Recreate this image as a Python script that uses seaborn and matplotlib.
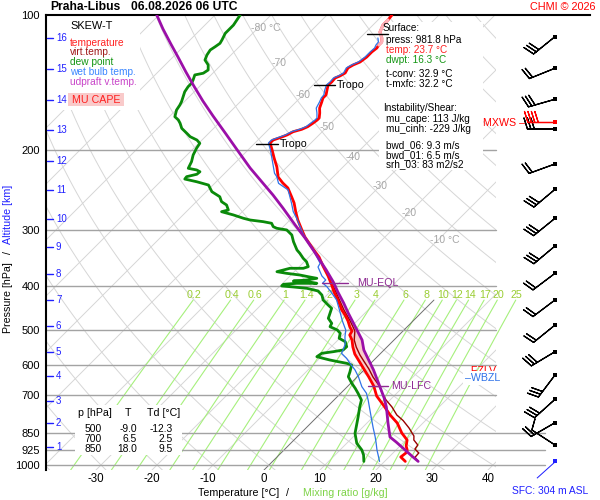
import numpy as np
import matplotlib
matplotlib.use("Agg")
import matplotlib.pyplot as plt
import seaborn as sns
from matplotlib.patches import Rectangle
from matplotlib.ticker import NullLocator

# ------------------------------------------------------------------ data
temp_p = [981.8, 959.9, 940.4, 926.1, 907.4, 879.9, 849.0, 806.6, 774.3, 739.4, 702.5, 667.5,
          637.4, 611.9, 587.3, 566.7, 546.7, 527.5, 514.2, 503.7, 493.6, 478.7, 464.2, 452.4,
          441.1, 425.5, 412.6, 400.1, 380.2, 361.2, 345.0, 332.8, 321.1, 311.4, 300.4, 285.5,
          274.0, 261.7, 253.8, 242.3, 236.2, 229.1, 217.7, 207.9, 199.5, 192.5, 189.6, 187.4,
          184.7, 181.7, 179.5, 177.1, 174.0, 171.1, 169.4, 165.1, 161.0, 156.1, 152.9, 150.5,
          146.8, 143.1, 140.9, 138.0, 136.6, 134.5, 131.1, 129.1, 127.2, 124.0, 120.8, 118.4,
          116.6, 114.8, 112.5, 109.1, 105.3, 102.6, 100.0]
temp_T = [23.7, 22.1, 22.3, 22.0, 21.1, 20.2, 18.0, 15.4, 12.7, 10.0, 6.9, 4.6,
          2.1, -0.2, -2.5, -4.5, -6.1, -7.5, -8.8, -9.1, -10.2, -11.6, -13.2, -14.7,
          -15.9, -17.7, -19.3, -20.7, -23.2, -25.9, -28.2, -30.4, -32.5, -34.3, -36.1, -38.6,
          -40.4, -42.3, -43.8, -46.1, -47.9, -49.8, -51.8, -53.9, -55.7, -57.3, -57.3, -56.5,
          -55.7, -55.2, -54.1, -53.5, -53.2, -53.0, -53.0, -53.8, -54.7, -55.4, -55.9, -55.9,
          -56.6, -57.3, -57.2, -57.3, -56.8, -56.4, -56.8, -56.4, -55.7, -55.4, -55.4, -55.2,
          -55.4, -55.4, -56.1, -57.5, -58.2, -58.2, -58.4]
temp_light_range = [116.6, 102.6]   # upper part drawn in light red

tv_p = [981.8, 961.4, 940.4, 921.4, 902.7, 879.9, 862.1, 827.5, 796.4, 774.3, 743.2, 717.1,
        695.4, 664.1, 637.4, 611.9, 588.9, 569.6, 546.7, 527.5, 503.7, 478.7, 452.4, 425.5, 400.1]
tv_T = [26.0, 24.7, 24.6, 23.2, 23.0, 21.4, 20.7, 18.4, 16.0, 13.9, 11.6, 9.3,
        7.6, 5.3, 2.85, 0.7, -1.5, -3.4, -5.5, -7.1, -8.6, -11.2, -14.3, -17.4, -20.5]

wb_p = [981.8, 950.1, 926.1, 893.5, 865.2, 827.5, 794.3, 754.7, 717.1, 692.9, 669.9, 636.5,
        615.0, 594.3, 579.3, 564.6, 555.2, 538.4, 519.4, 501.2, 478.7, 452.4, 429.8, 414.8,
        402.2, 394.1, 388.1, 380.2, 363.1, 356.2, 338.5, 327.3, 316.2, 305.6, 295.4, 283.0,
        273.6, 262.1, 244.8, 240.8, 236.6, 228.7, 224.8, 221.0, 207.9, 199.5, 192.5, 189.6,
        187.4, 184.7, 181.7, 179.5, 177.1, 174.0, 171.1, 169.4, 165.1, 161.0, 156.1, 152.9,
        150.5, 146.8, 143.1, 140.9, 138.0, 136.6, 134.5, 131.1, 129.1, 127.2, 124.0, 120.8,
        118.4, 116.6, 114.8, 112.5]
wb_T = [19.1, 17.7, 16.6, 15.2, 13.9, 12.0, 10.3, 8.2, 6.1, 4.6, 2.6, 0.2,
        -1.6, -3.7, -5.2, -7.0, -7.3, -8.0, -9.3, -10.4, -12.6, -15.1, -17.4, -19.5,
        -21.4, -22.9, -22.9, -24.3, -26.6, -26.9, -29.6, -31.4, -33.4, -35.3, -37.0, -39.1,
        -40.9, -42.7, -45.7, -47.1, -48.6, -50.1, -51.1, -51.8, -54.3, -56.0, -57.6, -57.6,
        -56.9, -56.0, -55.5, -54.5, -53.8, -53.6, -53.4, -53.4, -54.3, -55.3, -55.8, -56.2,
        -56.3, -57.0, -57.6, -57.5, -57.6, -57.1, -56.7, -57.1, -56.7, -56.0, -55.7, -55.7,
        -55.6, -55.9, -56.0, -56.8]

dp_p = [981.8, 950.1, 926.1, 894.9, 850.3, 814.9, 781.1, 742.1, 717.1, 692.9, 675.4, 658.4,
        636.5, 620.4, 599.5, 594.3, 589.4, 584.3, 579.3, 574.5, 564.6, 560.0, 555.2, 545.9,
        532.1, 522.9, 509.7, 501.2, 492.8, 484.3, 472.1, 460.1, 448.5, 441.1, 429.8, 419.1,
        410.5, 404.9, 402.2, 400.1, 396.7, 394.7, 394.7, 391.4, 390.1, 388.1, 384.7, 381.6,
        378.3, 375.0, 371.9, 365.5, 365.5, 362.5, 353.4, 347.3, 338.5, 332.8, 319.0, 308.2,
        300.4, 297.8, 295.4, 290.3, 287.9, 285.5, 283.0, 278.2, 273.6, 271.2, 264.4, 259.9,
        253.4, 247.0, 238.7, 234.7, 231.5, 228.7, 225.9, 223.0, 221.0, 219.1, 211.8, 204.7,
        197.8, 192.8, 189.6, 186.4, 183.2, 178.6, 174.0, 171.1, 168.3, 162.6, 158.5, 155.8,
        151.9, 148.1, 144.3, 141.9, 139.5, 135.9, 134.7, 132.5, 129.1, 125.9, 122.7, 119.6,
        117.6, 115.6, 113.6, 109.8, 107.9, 105.3, 100.0]
dp_T = [16.3, 15.1, 13.9, 11.8, 9.7, 8.5, 7.3, 5.8, 4.9, 3.1, 1.7, 0.2,
        -1.6, -2.2, -3.1, -4.3, -6.1, -7.9, -9.4, -10.8, -10.5, -8.75, -7.3, -7.25,
        -8.4, -10.1, -10.8, -11.9, -13.8, -14.1, -15.6, -16.2, -16.8, -18.0, -19.8, -20.9,
        -22.3, -24.8, -27.4, -29.7, -29.7, -27.5, -23.9, -26.0, -28.5, -26.3, -24.8, -26.6,
        -28.4, -31.1, -33.1, -31.4, -29.0, -28.4, -29.6, -30.8, -32.3, -33.4, -35.5, -37.0,
        -38.8, -40.9, -41.8, -42.7, -44.5, -47.1, -48.6, -51.0, -53.7, -52.8, -54.0, -55.5,
        -56.7, -59.0, -60.8, -63.5, -66.1, -66.2, -64.8, -64.7, -65.6, -67.4, -68.0, -68.9,
        -69.5, -69.8, -70.9, -72.7, -73.9, -75.7, -76.9, -77.8, -79.0, -79.9, -80.2, -80.5,
        -81.1, -81.7, -82.0, -82.0, -82.3, -82.9, -81.7, -81.4, -82.3, -83.75, -84.3, -84.6,
        -84.3, -84.05, -84.3, -84.9, -84.9, -84.9, -85.5]

par_p = [981.8, 955.0, 921.4, 889.0, 866.5, 806.6, 743.2, 709.8, 670.9, 615.0, 555.2, 527.5,
         501.2, 459.4, 436.5, 412.6, 392.0, 368.7, 332.8, 313.0, 292.8, 268.5, 251.2, 235.0,
         218.8, 200.6, 182.9, 167.7, 155.3, 143.8, 133.9, 124.0, 116.0, 107.4, 100.0]
par_T = [26.0, 23.9, 21.25, 18.6, 16.6, 13.75, 10.6, 8.6, 5.9, 1.7, -3.6, -5.7,
         -8.4, -13.0, -15.6, -18.6, -21.2, -24.6, -30.5, -34.1, -38.2, -43.4, -47.5, -51.8,
         -56.4, -61.6, -67.1, -72.3, -76.8, -81.1, -85.0, -89.1, -92.7, -96.8, -100.4]

cape_range = [672.0, 396.0]
eql_p = 394.7
lfc_p = 665.8
tropo_p = [193.5, 143.1]
tropo_mark_p = [110.4]

wind_p = [111.7, 131.3, 153.9, 179.2, 214.3, 244.0, 283.0, 326.1, 375.0, 429.8, 488.6, 560.0,
          631.0, 714.5, 805.4, 902.7]
wind_dir = [231, 248, 254, 270, 250, 230, 231, 230, 233, 233, 231, 239, 217, 228, 240, 303]
wind_spd = [30, 20, 30, 30, 20, 30, 30, 30, 20, 20, 20, 30, 30, 30, 20, 10]
mxws = dict(p=173.2, dir=270, spd=40)
sfc_wind = dict(p=981.8, dir=228)

p_ticks = [100, 200, 300, 400, 500, 600, 700, 850, 925, 1000]
p_grid_short = [200, 300, 400, 500, 600, 700]
p_grid_long = [850, 925, 1000]
t_ticks = [-30, -20, -10, 0, 10, 20, 30, 40]
alt_km = [16, 15, 14, 13, 12, 11, 10, 9, 8, 7, 6, 5, 4, 3, 2, 1]
alt_p = [112.5, 131.8, 154.5, 180.1, 211.1, 244.8, 284.0, 327.8, 376.3, 429.8, 491.0, 560.9,
         634.2, 719.7, 808.0, 910.6]
mix_w = [0.2, 0.4, 0.6, 1, 1.4, 2, 3, 4, 6, 8, 10, 12, 14, 17, 20, 25]
mix_lab = ["0.2", "0.4", "0.6", "1", "1.4", "2", "3", "4", "6", "8", "10", "12", "14", "17", "20", "25"]
mix_top_p = 430.0
iso_lab_T = [-80, -70, -60, -50, -40, -30, -20, -10]
iso_lab_p = [106.7, 127.7, 150.5, 177.1, 206.5, 239.9, 275.4, 316.2]

table_rows = [("500", "-9.0", "-12.3"), ("700", "6.5", "2.5"), ("850", "18.0", "9.5")]

# ------------------------------------------------------------------ style
sns.set_theme(style="white", rc={"axes.edgecolor": "black", "text.color": "black",
                                 "xtick.color": "black", "ytick.color": "black",
                                 "axes.linewidth": 1.5})
plt.rcParams["font.family"] = ["Liberation Sans", "DejaVu Sans"]
plt.rcParams["axes.unicode_minus"] = False

W, H = 600, 500
fig = plt.figure(figsize=(W / 100, H / 100), dpi=100)
fig.patch.set_facecolor("white")

PX0, PXS = 264.0, 5.6          # pixel of 0 degC at bottom, px per degC
AX_L, AX_R, AX_T, AX_B = 46, 590, 15, 470
Y1000 = 465.0


def px2X(px):
    return (px - PX0) / PXS


ax = fig.add_axes([AX_L / W, 1 - AX_B / H, (AX_R - AX_L) / W, (AX_B - AX_T) / H])
P_TOP = 100.0
LNSCALE = (Y1000 - AX_T) / np.log(1000 / P_TOP)
P_BOT = 1000 * np.exp((AX_B - Y1000) / LNSCALE)
K = LNSCALE / PXS


def skew(T, p):
    return np.asarray(T, float) + K * np.log(P_BOT / np.asarray(p, float))


ax.set_yscale("log")
ax.set_ylim(P_BOT, P_TOP)
ax.set_xlim(px2X(AX_L), px2X(AX_R))
for s in ["right", "bottom"]:
    ax.spines[s].set_visible(False)
ax.spines["left"].set_linewidth(1.5)
ax.spines["top"].set_linewidth(1.5)

XG = px2X(496)
XE = px2X(545)
clip = Rectangle((px2X(AX_L), P_TOP), XG - px2X(AX_L), P_BOT - P_TOP, transform=ax.transData)

pp = np.geomspace(P_BOT, P_TOP, 80)
for T in range(-160, 50, 10):
    if T == 0:
        continue
    ln, = ax.plot(skew(np.full_like(pp, T), pp), pp, color="#d6d6d6", lw=0.7, zorder=1)
    ln.set_clip_path(clip)
for th in range(-40, 190, 10):
    Tad = (th + 273.15) * (pp / 1000.0) ** 0.2857 - 273.15
    ln, = ax.plot(skew(Tad, pp), pp, color="#d6d6d6", lw=0.7, zorder=1)
    ln.set_clip_path(clip)
p0 = np.array([P_BOT, mix_top_p])
ax.plot(skew([0, 0], p0), p0, color="#6e6e6e", lw=0.7, zorder=1.25)

for p in p_grid_short:
    ax.plot([px2X(AX_L), XG], [p, p], color="#a3a3a3", lw=1.0, zorder=1.3)
for p in p_grid_long:
    ax.plot([px2X(AX_L), XE], [p, p], color="#a3a3a3", lw=1.0, zorder=1.3, clip_on=False)

pm = np.geomspace(P_BOT, mix_top_p, 40)
for w, lab in zip(mix_w, mix_lab):
    es = w * pm / (622.0 + w)
    lg = np.log(es / 6.112)
    Tm = 243.5 * lg / (17.67 - lg)
    ax.plot(skew(Tm, pm), pm, color="#a6f07c", lw=0.8, zorder=1.2)
    es2 = w * 426.0 / (622.0 + w)
    lg2 = np.log(es2 / 6.112)
    Xl = skew(243.5 * lg2 / (17.67 - lg2), 426.0)
    ax.text(Xl, 419.0, lab, ha="center", va="center", fontsize=7.7, color="#9acd32", zorder=2)

for T, p in zip(iso_lab_T, iso_lab_p):
    X = skew(T, p)
    if T in (-80, -10):
        ax.annotate(f"{T} °C", (X, p), xytext=(-5.5, 0), textcoords="offset points",
                    ha="left", va="center", fontsize=7.5, color="#a6a6a6", zorder=2)
    else:
        ax.text(X, p, f"{T}", ha="center", va="center", fontsize=7.5, color="#a6a6a6", zorder=2)


# white boxes (figure pixel coordinates)
def fbox(x0, y0, x1, y1, color, z):
    ax.add_patch(Rectangle((x0 / W, 1 - y1 / H), (x1 - x0) / W, (y1 - y0) / H,
                           transform=fig.transFigure, facecolor=color, edgecolor="none",
                           zorder=z, clip_on=False))


fbox(47, 16, 140, 110, "white", 2.2)
fbox(379, 22, 483, 170, "white", 2.2)
fbox(75, 405, 182, 455, "white", 2.2)
fbox(68, 93, 124, 106, "#f9caca", 2.3)

# CAPE fill
temp_p_a = np.array(temp_p); temp_T_a = np.array(temp_T)
par_p_a = np.array(par_p); par_T_a = np.array(par_T)
pg = np.geomspace(cape_range[0], cape_range[1], 200)
Tr = np.interp(np.log(pg), np.log(temp_p_a)[::-1], temp_T_a[::-1])
Tpc = np.interp(np.log(pg), np.log(par_p_a)[::-1], par_T_a[::-1])
Xr, Xpc = skew(Tr, pg), skew(Tpc, pg)
ax.fill_betweenx(pg, Xr, Xpc, where=Xpc > Xr, color="#f9caca", lw=0, zorder=2.5)

# profiles
sns.lineplot(x=skew(tv_T, tv_p), y=np.array(tv_p), sort=False, estimator=None, color="#990000",
             linewidth=1.0, ax=ax, zorder=3)
sns.lineplot(x=skew(dp_T, dp_p), y=np.array(dp_p), sort=False, estimator=None, color="#0a8a0a",
             linewidth=2.0, ax=ax, zorder=3.2)
sns.lineplot(x=skew(temp_T, temp_p), y=temp_p_a, sort=False, estimator=None, color="#ff0000",
             linewidth=2.0, ax=ax, zorder=3.4)
m = (temp_p_a <= temp_light_range[0]) & (temp_p_a >= temp_light_range[1])
sns.lineplot(x=skew(temp_T_a[m], temp_p_a[m]), y=temp_p_a[m], sort=False, estimator=None,
             color="#ffb0b8", linewidth=2.2, ax=ax, zorder=3.45)
sns.lineplot(x=skew(wb_T, wb_p), y=np.array(wb_p), sort=False, estimator=None, color="#2f72e8",
             linewidth=0.9, ax=ax, zorder=3.5)
sns.lineplot(x=skew(par_T, par_p), y=par_p_a, sort=False, estimator=None, color="#9b0fa8",
             linewidth=2.0, ax=ax, zorder=3.6)
ax.set_xlabel("")
ax.set_ylabel("")


def interpT(p_arr, T_arr, p):
    p_arr = np.asarray(p_arr); T_arr = np.asarray(T_arr)
    return float(np.interp(np.log(p), np.log(p_arr)[::-1], T_arr[::-1]))


# level markers
for p in tropo_p + tropo_mark_p:
    Xc = skew(interpT(temp_p, temp_T, p), p)
    ax.plot([Xc - 2.5, Xc + 1.3], [p, p], color="black", lw=1.0, zorder=4)
for p in tropo_p:
    Xc = skew(interpT(temp_p, temp_T, p), p)
    ax.text(Xc + 1.6, p, "Tropo", ha="left", va="center", fontsize=7.7, color="black", zorder=4)

Xe = skew(interpT(par_p, par_T, eql_p), eql_p)
ax.plot([Xe - 2.2, Xe + 2.5], [eql_p, eql_p], color="#8e2a92", lw=1.0, zorder=4)
ax.text(Xe + 4.1, eql_p, "MU-EQL", ha="left", va="center", fontsize=7.7, color="#8e2a92", zorder=4)
Xf = skew(interpT(par_p, par_T, lfc_p), lfc_p)
ax.plot([Xf - 2.0, Xf + 1.6], [lfc_p, lfc_p], color="#8e2a92", lw=1.0, zorder=4)
ax.text(Xf + 2.1, lfc_p, "MU-LFC", ha="left", va="center", fontsize=7.7, color="#8e2a92", zorder=4)

# wind barbs
BL = 6.3
xb = px2X(555)
d = np.deg2rad(wind_dir)
spd = np.array(wind_spd, float)
u, v = -spd * np.sin(d), -spd * np.cos(d)
ax.barbs(np.full(len(wind_p), xb), wind_p, u, v, length=BL, pivot="tip", color="black",
         linewidth=0.9, clip_on=False, zorder=4)
ax.scatter(np.full(len(wind_p), xb), wind_p, marker="s", s=8, color="black", zorder=5,
           clip_on=False, linewidths=0)
dm = np.deg2rad(mxws["dir"])
ax.barbs([xb], [mxws["p"]], [-mxws["spd"] * np.sin(dm)], [-mxws["spd"] * np.cos(dm)], length=BL,
         pivot="tip", color="red", linewidth=0.9, clip_on=False, zorder=4.5)
ax.scatter([xb], [mxws["p"]], marker="s", s=8, color="red", zorder=5, clip_on=False, linewidths=0)
ds = np.deg2rad(sfc_wind["dir"])
ax.quiver([xb], [sfc_wind["p"]], [np.sin(ds)], [np.cos(ds)], angles="uv", scale_units="inches",
          scale=1 / 0.25, width=1.0, units="dots", headwidth=1, headlength=0, headaxislength=0,
          color="#2020ff", clip_on=False, zorder=4)
ax.scatter([xb], [sfc_wind["p"]], marker="s", s=8, color="#2020ff", zorder=5, clip_on=False,
           linewidths=0)

# axes ticks
ax.set_yticks(p_ticks)
ax.set_yticklabels([str(p) for p in p_ticks])
ax.yaxis.set_minor_locator(NullLocator())
ax.tick_params(axis="y", length=0, pad=4.5, labelsize=8, labelcolor="black")
ax.set_xticks(t_ticks)
ax.set_xticklabels([str(t) for t in t_ticks])
ax.tick_params(axis="x", length=0, pad=2.0, labelsize=8.3, labelcolor="black")

tr = ax.get_yaxis_transform()
for km, p in zip(alt_km, alt_p):
    ax.plot([1 / 544, 7 / 544], [p, p], transform=tr, color="#2020ff", lw=1.0, clip_on=False,
            zorder=5)
    ax.text(10 / 544, p, str(km), transform=tr, ha="left", va="center", fontsize=7,
            color="#2020ff", zorder=5)


# figure texts
def ftext(px, py, s, **kw):
    kw.setdefault("va", "center")
    kw.setdefault("ha", "left")
    return fig.text(px / W, 1 - py / H, s, **kw)


ftext(50, 7.5, "Praha-Libus", fontsize=8.7, fontweight="bold")
ftext(131, 7.5, "06.08.2026 06 UTC", fontsize=8.7, fontweight="bold")
ftext(596, 7, "CHMI © 2026", fontsize=7.8, color="red", ha="right")

ftext(70, 26, "SKEW-T", fontsize=7.9, color="black", zorder=6)
for yy, s, c in [(42.5, "temperature", "#ff2020"), (52, "virt.temp.", "#a01818"),
                 (62, "dew point", "#149614"), (72, "wet bulb temp.", "#3a86ff"),
                 (81.7, "udpraft v.temp.", "#c844c8")]:
    ftext(70, yy, s, fontsize=7.3, color=c, zorder=6)
ftext(96, 100, "MU CAPE", fontsize=7.7, color="#ff2020", ha="center", zorder=6)

info = [(28.3, "Surface:", "black", 382.7), (40, "press: 981.8 hPa", "black", 386),
        (50, "temp: 23.7 °C", "#ff2020", 386), (60, "dwpt: 16.3 °C", "#149614", 386),
        (74.3, "t-conv: 32.9 °C", "black", 386), (84.3, "t-mxfc: 32.2 °C", "black", 386),
        (108.3, "Instability/Shear:", "black", 382.7), (119.3, "mu_cape: 113 J/kg", "black", 386),
        (129.3, "mu_cinh: -229 J/kg", "black", 386), (145, "bwd_06: 9.3 m/s", "black", 386),
        (155, "bwd_01: 6.5 m/s", "black", 386), (164.3, "srh_03: 83 m2/s2", "black", 386)]
for yy, s, c, xx in info:
    ftext(xx, yy, s, fontsize=7.2, color=c, zorder=6)

ftext(78, 413.3, "p [hPa]", fontsize=7.7)
ftext(127.7, 413.3, "T", fontsize=7.7, ha="center")
ftext(146.7, 413.3, "Td [°C]", fontsize=7.7)
for yy, (pl, t, td) in zip([429, 439, 449], table_rows):
    ftext(93.3, yy, pl, fontsize=7.4, ha="center")
    ftext(137, yy, t, fontsize=7.4, ha="right")
    ftext(173, yy, td, fontsize=7.4, ha="right")

ftext(482.7, 123.3, "MXWS –", fontsize=7.7, color="red")
ftext(465, 370.5, "–FZLV", fontsize=7.7, color="red", zorder=6)
ftext(465, 378.0, "–WBZL", fontsize=7.7, color="#2f72e8", zorder=7,
      bbox=dict(facecolor="white", edgecolor="none", pad=1.5))
ftext(512, 491.5, "SFC: 304 m ASL", fontsize=7.4, color="#2020ff")

ftext(198.3, 493, "Temperature [°C]", fontsize=7.7)
ftext(287.3, 493, "/", fontsize=7.7, ha="center")
ftext(303.3, 493, "Mixing ratio [g/kg]", fontsize=7.7, color="#7ed348")

ftext(8.3, 298, "Pressure [hPa]", fontsize=7.7, rotation=90, ha="center")
ftext(8.3, 252, "/", fontsize=7.7, rotation=90, ha="center")
ftext(8.3, 214, "Altitude [km]", fontsize=7.7, rotation=90, ha="center", color="#2020ff")

fig.savefig("out.png", dpi=100, facecolor="white")
